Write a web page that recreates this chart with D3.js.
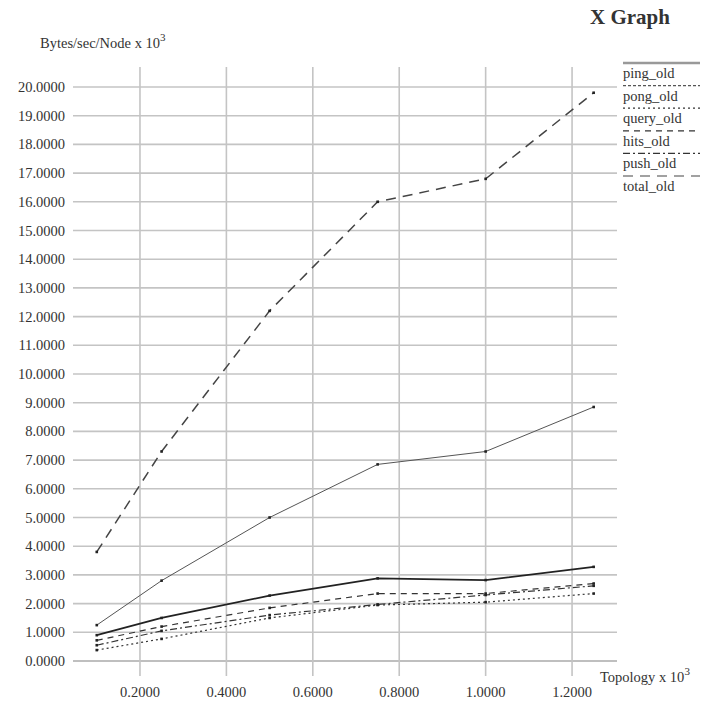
<!DOCTYPE html>
<html>
<head>
<meta charset="utf-8">
<script src="https://cdn.jsdelivr.net/npm/d3@7"></script>
<style>
  html, body { margin: 0; padding: 0; background: #fff; }
  svg text { font-family: "Liberation Serif", "DejaVu Serif", serif; fill: #333; }
</style>
</head>
<body>
<svg id="chart" width="703" height="704"></svg>
<script>
// Topology sizes (x 10^3) and per-node traffic (Bytes/sec/Node x 10^3)
const topology = [0.1, 0.25, 0.5, 0.75, 1.0, 1.25];
const pingOld  = [0.90, 1.50, 2.28, 2.88, 2.82, 3.28];
const pongOld  = [1.25, 2.80, 5.00, 6.85, 7.30, 8.85];
const queryOld = [0.38, 0.77, 1.50, 1.95, 2.05, 2.35];
const hitsOld  = [0.72, 1.20, 1.85, 2.35, 2.35, 2.70];
const pushOld  = [0.55, 1.05, 1.60, 1.97, 2.30, 2.62];
const totalOld = [3.80, 7.30, 12.20, 16.00, 16.80, 19.80];

const seriesNames = ["ping_old", "pong_old", "query_old", "hits_old", "push_old", "total_old"];
const xTicks = [0.2, 0.4, 0.6, 0.8, 1.0, 1.2];
const yTicks = d3.range(0, 21, 1);

const series = [
  { name: seriesNames[0], values: pingOld,  dash: null,      legendDash: null,  width: 1.8, color: "#222" },
  { name: seriesNames[1], values: pongOld,  dash: null,      legendDash: "3,2", width: 1.0, color: "#555" },
  { name: seriesNames[2], values: queryOld, dash: "2,3",     legendDash: "2,3", width: 1.2, color: "#333" },
  { name: seriesNames[3], values: hitsOld,  dash: "6,5",     legendDash: "6,5", width: 1.2, color: "#333" },
  { name: seriesNames[4], values: pushOld,  dash: "7,3,2,3", legendDash: "7,3,2,3", width: 1.2, color: "#333" },
  { name: seriesNames[5], values: totalOld, dash: "10,7",    legendDash: "10,7", width: 1.5, color: "#444" }
];

const svg = d3.select("#chart");
const fmt = d3.format(".4f");

const x = d3.scaleLinear().domain([0.045, 1.304]).range([73, 617]);
const y = d3.scaleLinear().domain([0, 20]).range([661, 87]);
const yTop = 20.7;

// Grid: horizontal lines per y tick, vertical lines per x tick (running past the axis as ticks)
const grid = svg.append("g").attr("stroke", "#c4c4c4").attr("stroke-width", 1.6);
grid.selectAll("line.h").data(yTicks).join("line")
  .attr("class", "h")
  .attr("x1", x.range()[0]).attr("x2", x.range()[1])
  .attr("y1", d => y(d)).attr("y2", d => y(d))
  .attr("stroke", d => d === 0 ? "#aaa" : null);
grid.selectAll("line.v").data(xTicks).join("line")
  .attr("class", "v")
  .attr("x1", d => x(d)).attr("x2", d => x(d))
  .attr("y1", y(yTop)).attr("y2", y(0) + 15);

// Tick labels
svg.append("g").selectAll("text").data(yTicks).join("text")
  .attr("x", 65).attr("y", d => y(d)).attr("dy", "0.35em")
  .attr("text-anchor", "end").attr("font-size", 14.5)
  .text(d => fmt(d));
svg.append("g").selectAll("text").data(xTicks).join("text")
  .attr("x", d => x(d)).attr("y", 697)
  .attr("text-anchor", "middle").attr("font-size", 14.5)
  .text(d => fmt(d));

// Axis titles and chart title
const yTitle = svg.append("text").attr("x", 40).attr("y", 48).attr("font-size", 14.5);
yTitle.append("tspan").text("Bytes/sec/Node x 10");
yTitle.append("tspan").attr("dy", -7).attr("font-size", 11).text("3");

const xTitle = svg.append("text").attr("x", 600).attr("y", 682).attr("font-size", 14.5);
xTitle.append("tspan").text("Topology x 10");
xTitle.append("tspan").attr("dy", -7).attr("font-size", 11).text("3");

svg.append("text").attr("x", 590).attr("y", 24)
  .attr("font-size", 21).attr("font-weight", "bold").attr("fill", "#222")
  .text("X Graph");

// Series lines and point markers
const line = d3.line().x(d => x(d[0])).y(d => y(d[1]));
const plot = svg.append("g").attr("fill", "none");
series.forEach(s => {
  const pts = topology.map((t, i) => [t, s.values[i]]);
  plot.append("path").datum(pts)
    .attr("d", line)
    .attr("stroke", s.color)
    .attr("stroke-width", s.width)
    .attr("stroke-dasharray", s.dash);
  plot.append("g").selectAll("rect").data(pts).join("rect")
    .attr("x", d => x(d[0]) - 1.3).attr("y", d => y(d[1]) - 1.3)
    .attr("width", 2.6).attr("height", 2.6)
    .attr("fill", "#222");
});

// Legend: sample line above each series name
const legend = svg.append("g");
series.forEach((s, i) => {
  const ly = 63 + i * 22.6;
  legend.append("line")
    .attr("x1", 623).attr("x2", 700).attr("y1", ly).attr("y2", ly)
    .attr("stroke", i === 0 ? "#999" : s.color)
    .attr("stroke-width", i === 0 ? 2.5 : 1.2)
    .attr("stroke-dasharray", s.legendDash);
  legend.append("text")
    .attr("x", 623).attr("y", ly + 15)
    .attr("font-size", 14.5).attr("fill", "#555")
    .text(s.name);
});
</script>
</body>
</html>
